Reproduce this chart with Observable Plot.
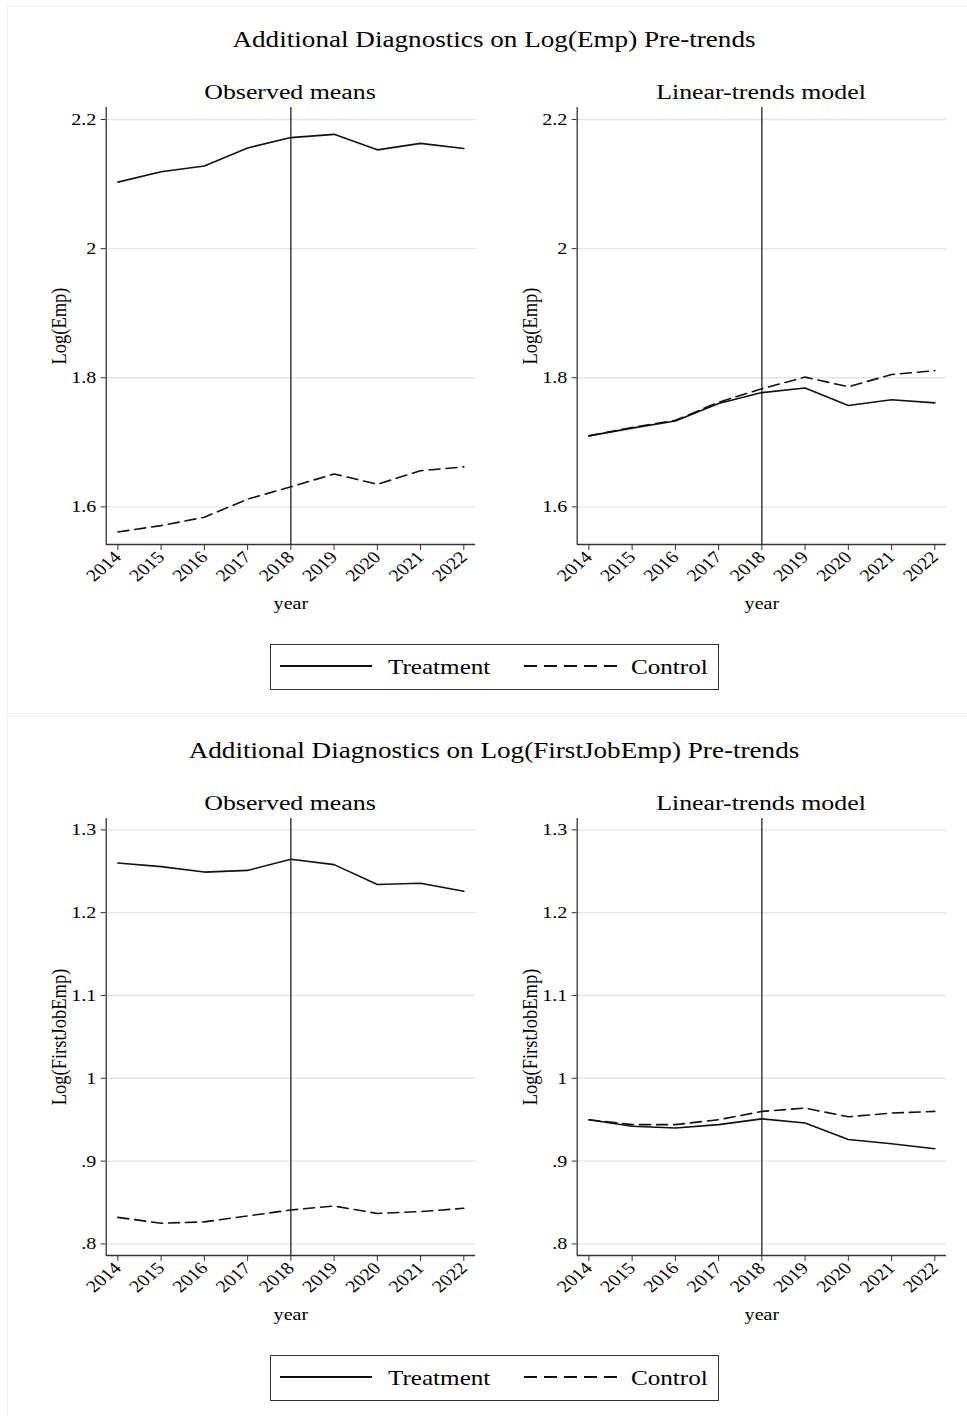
<!DOCTYPE html>
<html>
<head>
<meta charset="utf-8">
<script src="https://cdn.jsdelivr.net/npm/d3@7"></script>
<script src="https://cdn.jsdelivr.net/npm/@observablehq/plot@0.6"></script>
<style>
  html, body { margin: 0; padding: 0; background: #fff; }
  #root { position: relative; width: 967px; height: 1416px; overflow: hidden; font-family: "Liberation Serif", "Times New Roman", serif; color: #000; }
  .panel { position: absolute; border: 1px solid #f0f0f0; box-sizing: border-box; }
  .ctext { position: absolute; transform: translate(-50%, -50%) scaleX(1.18); white-space: nowrap; line-height: 1; }
  .plotwrap { position: absolute; }
  .legend { position: absolute; border: 1.5px solid #333; box-sizing: border-box; background: #fff; }
</style>
</head>
<body>
<div id="root"></div>
<script>
// ---------- data ----------
const years = [2014, 2015, 2016, 2017, 2018, 2019, 2020, 2021, 2022];
const groups = ["Treatment", "Control"];

// Log(Emp)
const empObsTreatment = [2.103, 2.119, 2.128, 2.156, 2.172, 2.177, 2.153, 2.163, 2.155];
const empObsControl   = [1.561, 1.571, 1.584, 1.612, 1.631, 1.651, 1.635, 1.656, 1.662];
const empLinTreatment = [1.710, 1.722, 1.733, 1.760, 1.777, 1.784, 1.757, 1.766, 1.761];
const empLinControl   = [1.710, 1.723, 1.734, 1.762, 1.783, 1.801, 1.786, 1.805, 1.811];

// Log(FirstJobEmp)
const fjObsTreatment = [1.260, 1.2556, 1.249, 1.251, 1.2645, 1.258, 1.234, 1.2355, 1.2258];
const fjObsControl   = [0.832, 0.825, 0.8266, 0.8338, 0.841, 0.8457, 0.8368, 0.839, 0.843];
const fjLinTreatment = [0.950, 0.942, 0.940, 0.944, 0.951, 0.946, 0.926, 0.921, 0.915];
const fjLinControl   = [0.950, 0.944, 0.944, 0.950, 0.960, 0.964, 0.9535, 0.958, 0.960];

const empTicks = [1.6, 1.8, 2, 2.2];
const fjTicks = [0.8, 0.9, 1, 1.1, 1.2, 1.3];
const treatYear = 2018;

const panelTitles = ["Additional Diagnostics on Log(Emp) Pre-trends", "Additional Diagnostics on Log(FirstJobEmp) Pre-trends"];
const subTitles = ["Observed means", "Linear-trends model"];
const yLabels = ["Log(Emp)", "Log(FirstJobEmp)"];
const xLabel = "year";

// ---------- layout ----------
const FONT = "'Liberation Serif', 'Times New Roman', serif";
const STRETCH = 1.18;
const xDomain = [2013.73, 2022.27];
const empDomain = [1.5417, 2.2186];
const fjDomain = [0.786, 1.3137];

const root = document.getElementById("root");

function fmtTick(d) {
  const s = String(+d.toFixed(2));
  return s.replace(/^0\./, ".");
}

function stretchTexts(svg, k) {
  svg.querySelectorAll("text").forEach(t => {
    const tr = t.getAttribute("transform");
    if (tr && /^translate\([^)]*\)/.test(tr)) {
      t.setAttribute("transform", tr.replace(/^(translate\([^)]*\))/, `$1 scale(${k},1)`));
    } else if (!tr) {
      const x = +(t.getAttribute("x") || 0), y = t.getAttribute("y");
      if (y != null && !isNaN(+y)) {
        t.setAttribute("transform", `translate(${x},${+y}) scale(${k},1)`);
        t.setAttribute("x", 0); t.setAttribute("y", 0);
      }
    }
  });
}

function makePlot(treat, ctrl, yDomain, yTicks, yLabel) {
  const rows = (vals, g) => years.map((y, i) => ({year: y, value: vals[i], group: g}));
  const tData = rows(treat, groups[0]);
  const cData = rows(ctrl, groups[1]);
  const svg = Plot.plot({
    width: 483,
    height: 520,
    marginLeft: 105.7,
    marginRight: 8,
    marginTop: 7,
    marginBottom: 76,
    style: {fontFamily: FONT, fontSize: "17px", color: "#000", background: "transparent", overflow: "visible"},
    x: {domain: xDomain},
    y: {domain: yDomain},
    marks: [
      Plot.gridY(yTicks, {stroke: "#e4e4e4", strokeOpacity: 1, strokeWidth: 1.4}),
      Plot.ruleX([treatYear], {stroke: "#222", strokeWidth: 1.3}),
      Plot.line(tData, {x: "year", y: "value", stroke: "#111", strokeWidth: 1.6}),
      Plot.line(cData, {x: "year", y: "value", stroke: "#111", strokeWidth: 1.6, strokeDasharray: "11,6"}),
      Plot.ruleX([xDomain[0]], {stroke: "#333", strokeWidth: 1.3}),
      Plot.ruleY([yDomain[0]], {stroke: "#333", strokeWidth: 1.3}),
      Plot.axisY({ticks: yTicks, tickFormat: fmtTick, tickSize: 5, tickPadding: 5, stroke: "#333",
        fontSize: 17, label: null}),
      Plot.axisY({ticks: [], tickSize: 0, fontSize: 18.5, label: yLabel, labelAnchor: "center", labelOffset: 56, labelArrow: "none"}),
      Plot.axisX({ticks: years, tickFormat: d => String(d), tickSize: 6, tickPadding: 4, tickRotate: -45, stroke: "#333",
        fontSize: 17, label: xLabel, labelAnchor: "center", labelOffset: 64, labelArrow: "none"})
    ]
  });
  stretchTexts(svg, STRETCH);
  return svg;
}

function addText(txt, cx, cy, size) {
  const d = document.createElement("div");
  d.className = "ctext";
  d.style.left = cx + "px";
  d.style.top = cy + "px";
  d.style.fontSize = size + "px";
  d.textContent = txt;
  root.appendChild(d);
}

function addLegend(top) {
  const box = document.createElement("div");
  box.className = "legend";
  box.style.left = "270px";
  box.style.top = top + "px";
  box.style.width = "449px";
  box.style.height = "46px";
  const ns = "http://www.w3.org/2000/svg";
  const svg = document.createElementNS(ns, "svg");
  svg.setAttribute("width", "446");
  svg.setAttribute("height", "43");
  svg.style.position = "absolute";
  svg.style.left = "0px";
  svg.style.top = "0px";
  const items = [
    {x1: 9, x2: 101, dash: null, label: groups[0], tx: 117},
    {x1: 253, x2: 346, dash: "13,7", label: groups[1], tx: 360}
  ];
  for (const it of items) {
    const ln = document.createElementNS(ns, "line");
    ln.setAttribute("x1", it.x1); ln.setAttribute("x2", it.x2);
    ln.setAttribute("y1", 21); ln.setAttribute("y2", 21);
    ln.setAttribute("stroke", "#111"); ln.setAttribute("stroke-width", "2");
    if (it.dash) ln.setAttribute("stroke-dasharray", it.dash);
    svg.appendChild(ln);
    const t = document.createElementNS(ns, "text");
    t.setAttribute("transform", `translate(${it.tx},29) scale(${STRETCH},1)`);
    t.setAttribute("font-family", FONT); t.setAttribute("font-size", "21.3");
    t.setAttribute("fill", "#000");
    t.textContent = it.label;
    svg.appendChild(t);
  }
  box.appendChild(svg);
  root.appendChild(box);
}

function addPanel(offset, title, seriesPairs, yDomain, yTicks, yLabel, panelHeight) {
  const p = document.createElement("div");
  p.className = "panel";
  p.style.left = "7px";
  p.style.top = (5 + offset) + "px";
  p.style.width = "965px";
  p.style.height = panelHeight + "px";
  root.appendChild(p);

  addText(title, 494, 39 + offset, 23);
  addText(subTitles[0], 290, 92 + offset, 21.9);
  addText(subTitles[1], 761, 92 + offset, 21.9);

  const lefts = [0, 471];
  seriesPairs.forEach(([t, c], i) => {
    const w = document.createElement("div");
    w.className = "plotwrap";
    w.style.left = lefts[i] + "px";
    w.style.top = (100 + offset) + "px";
    w.appendChild(makePlot(t, c, yDomain, yTicks, yLabel));
    root.appendChild(w);
  });
  addLegend(644 + offset);
}

addPanel(0, panelTitles[0], [[empObsTreatment, empObsControl], [empLinTreatment, empLinControl]], empDomain, empTicks, yLabels[0], 709);
addPanel(711, panelTitles[1], [[fjObsTreatment, fjObsControl], [fjLinTreatment, fjLinControl]], fjDomain, fjTicks, yLabels[1], 720);
</script>
</body>
</html>
